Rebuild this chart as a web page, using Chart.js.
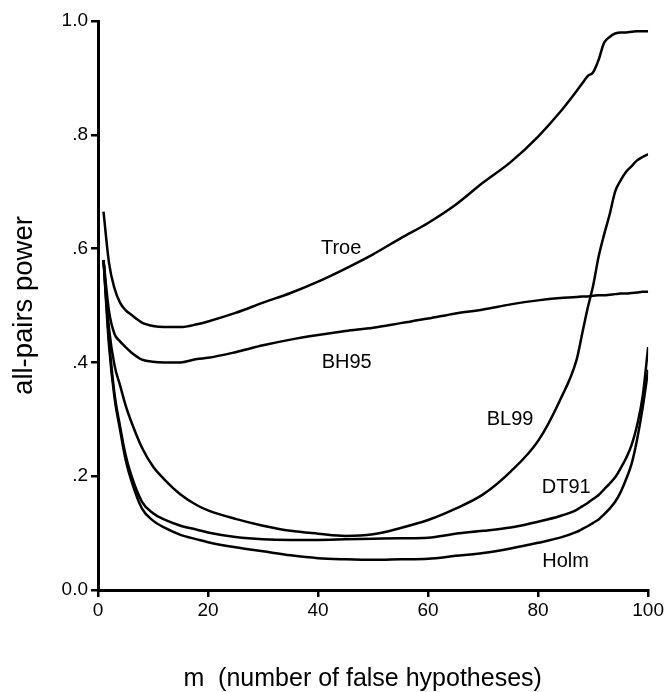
<!DOCTYPE html>
<html lang="en">
<head>
    <meta charset="UTF-8">
    <title>All-pairs power</title>
    <style>
        body {
            margin: 0;
            padding: 0;
            background: #ffffff;
        }
        .chart-container {
            position: relative;
            width: 666px;
            height: 692px;
        }
    </style>
    <script src="https://cdn.jsdelivr.net/npm/chart.js"></script>
</head>
<body>
    <div class="chart-container">
        <canvas id="powerChart"></canvas>
    </div>

    <script>
        // m = number of false hypotheses
        const mValues = [1, 2, 3, 4, 5, 6, 8, 10, 12, 15, 18, 20, 25, 30, 35, 40, 45, 50, 55, 60,
                         65, 70, 75, 80, 84, 87, 88, 89, 90, 91, 92, 93, 94, 95, 96, 97, 98, 99, 100];

        const troe = [0.665, 0.575, 0.530, 0.505, 0.492, 0.484, 0.470, 0.464, 0.462, 0.462, 0.467, 0.472, 0.487, 0.505, 0.522, 0.542, 0.565, 0.590, 0.618, 0.645,
                      0.677, 0.716, 0.752, 0.797, 0.840, 0.877, 0.890, 0.903, 0.910, 0.932, 0.962, 0.972, 0.978, 0.980, 0.980, 0.981, 0.982, 0.982, 0.982];
        const bh95 = [0.580, 0.490, 0.450, 0.437, 0.427, 0.418, 0.405, 0.401, 0.400, 0.400, 0.406, 0.408, 0.418, 0.430, 0.440, 0.448, 0.455, 0.461, 0.469, 0.477,
                      0.486, 0.493, 0.502, 0.509, 0.513, 0.515, 0.516, 0.516, 0.517, 0.518, 0.518, 0.519, 0.520, 0.521, 0.521, 0.522, 0.523, 0.524, 0.524];
        const bl99 = [0.580, 0.460, 0.395, 0.360, 0.325, 0.297, 0.250, 0.217, 0.195, 0.168, 0.149, 0.140, 0.125, 0.113, 0.104, 0.099, 0.095, 0.098, 0.109, 0.123,
                      0.143, 0.168, 0.208, 0.262, 0.334, 0.405, 0.450, 0.495, 0.535, 0.586, 0.625, 0.660, 0.700, 0.720, 0.735, 0.745, 0.755, 0.761, 0.766];
        const dt91 = [0.580, 0.440, 0.345, 0.288, 0.238, 0.203, 0.155, 0.135, 0.124, 0.113, 0.106, 0.101, 0.093, 0.089, 0.088, 0.088, 0.089, 0.090, 0.091, 0.092,
                      0.099, 0.104, 0.110, 0.120, 0.130, 0.141, 0.147, 0.153, 0.160, 0.167, 0.177, 0.187, 0.198, 0.214, 0.232, 0.255, 0.290, 0.340, 0.427];
        const holm = [0.580, 0.430, 0.338, 0.282, 0.230, 0.194, 0.143, 0.122, 0.110, 0.097, 0.089, 0.084, 0.075, 0.068, 0.061, 0.056, 0.054, 0.053, 0.054, 0.055,
                      0.060, 0.065, 0.073, 0.083, 0.092, 0.102, 0.107, 0.112, 0.118, 0.124, 0.133, 0.143, 0.155, 0.172, 0.195, 0.222, 0.265, 0.320, 0.387];

        const xTickLabels = ['0', '20', '40', '60', '80', '100'];
        const yTickLabels = ['0.0', '.2', '.4', '.6', '.8', '1.0'];

        // curve names, anchored in data coordinates
        const curveLabels = [
            { text: 'Troe', m: 44.2, v: 0.600 },
            { text: 'BH95', m: 45.2, v: 0.400 },
            { text: 'BL99', m: 74.9, v: 0.300 },
            { text: 'DT91', m: 85.1, v: 0.180 },
            { text: 'Holm', m: 85.0, v: 0.050 }
        ];

        const FONT = '"Liberation Sans", Arial, Helvetica, sans-serif';

        function serie(values) {
            return values.map((v, i) => ({ x: mValues[i], y: v }));
        }

        function linha(label, values) {
            return {
                label: label,
                data: serie(values),
                borderColor: '#000',
                borderWidth: 2.5,
                pointRadius: 0,
                fill: false,
                cubicInterpolationMode: 'monotone'
            };
        }

        const curveLabelPlugin = {
            id: 'curveLabels',
            afterDatasetsDraw(chart) {
                const ctx = chart.ctx;
                const xs = chart.scales.x, ys = chart.scales.y;
                ctx.save();
                ctx.fillStyle = '#000';
                ctx.font = '20px ' + FONT;
                ctx.textAlign = 'center';
                ctx.textBaseline = 'middle';
                curveLabels.forEach(l => {
                    ctx.fillText(l.text, xs.getPixelForValue(l.m), ys.getPixelForValue(l.v));
                });
                ctx.restore();
            }
        };

        const axisStyle = {
            border: { display: true, color: '#000', width: 3 },
            grid: { display: true, drawOnChartArea: false, drawTicks: true, tickLength: 7, color: '#000', lineWidth: 2.5 }
        };

        new Chart(document.getElementById('powerChart'), {
            type: 'line',
            data: {
                datasets: [
                    linha('Troe', troe),
                    linha('BH95', bh95),
                    linha('BL99', bl99),
                    linha('DT91', dt91),
                    linha('Holm', holm)
                ]
            },
            options: {
                responsive: true,
                maintainAspectRatio: false,
                animation: false,
                layout: { padding: { top: 21, right: 17, left: 0, bottom: 0 } },
                plugins: {
                    legend: { display: false },
                    tooltip: { enabled: false }
                },
                scales: {
                    x: {
                        type: 'linear',
                        min: 0,
                        max: 100,
                        ...axisStyle,
                        ticks: {
                            stepSize: 20,
                            color: '#000',
                            padding: 2,
                            maxRotation: 0,
                            font: { family: FONT, size: 19 },
                            callback: (v, i) => xTickLabels[i]
                        },
                        title: {
                            display: true,
                            // trailing spaces shift the centred title a little left, as in the original
                            text: 'm  (number of false hypotheses)   ',
                            color: '#000',
                            font: { family: FONT, size: 25, lineHeight: 1 },
                            padding: { top: 0, bottom: 0 }
                        },
                        afterFit: (scale) => { scale.height = 102; }
                    },
                    y: {
                        min: 0,
                        max: 1,
                        ...axisStyle,
                        ticks: {
                            stepSize: 0.2,
                            color: '#000',
                            padding: 3,
                            font: { family: FONT, size: 19 },
                            callback: (v, i) => yTickLabels[i]
                        },
                        title: {
                            display: true,
                            text: 'all-pairs power',
                            color: '#000',
                            font: { family: FONT, size: 27.5, lineHeight: 1 },
                            padding: { top: 11, bottom: 0 }
                        },
                        afterFit: (scale) => { scale.width = 98; }
                    }
                }
            },
            plugins: [curveLabelPlugin]
        });
    </script>
</body>
</html>
